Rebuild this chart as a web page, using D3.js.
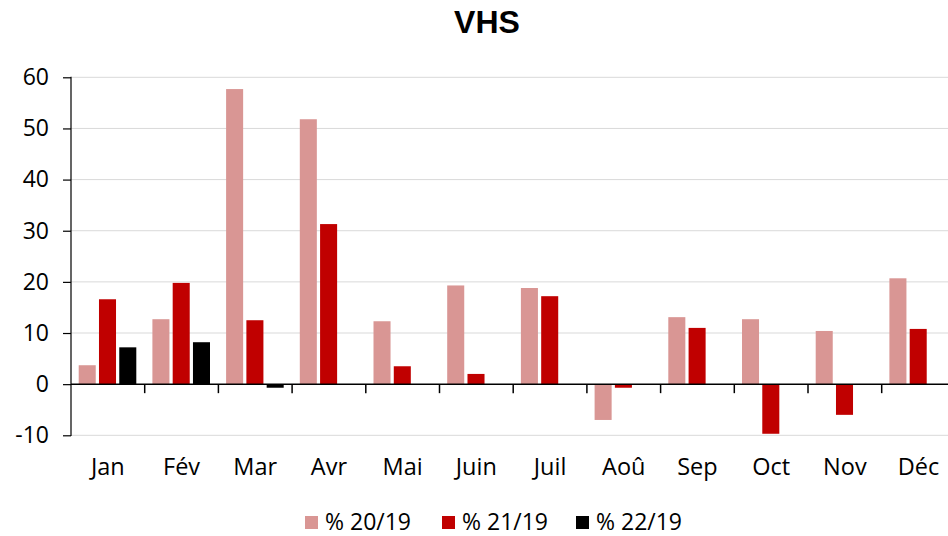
<!DOCTYPE html>
<html>
<head>
<meta charset="utf-8">
<script src="https://cdn.jsdelivr.net/npm/d3@7"></script>
<style>
  body { margin: 0; background: #fff; }
  svg { display: block; font-family: "Open Sans", sans-serif; }
</style>
</head>
<body>
<svg id="chart" width="948" height="536"></svg>
<script>
// Données
const mois = ["Jan", "Fév", "Mar", "Avr", "Mai", "Juin", "Juil", "Aoû", "Sep", "Oct", "Nov", "Déc"];
const series = ["% 20/19", "% 21/19", "% 22/19"];
const couleurs = ["#d99694", "#c00000", "#000000"];
const v2019_20 = [3.7, 12.7, 57.7, 51.8, 12.3, 19.3, 18.8, -7.0, 13.1, 12.7, 10.4, 20.7];
const v2019_21 = [16.6, 19.8, 12.5, 31.3, 3.5, 2.0, 17.2, -0.7, 11.0, -9.7, -6.0, 10.8];
const v2019_22 = [7.2, 8.2, -0.7, null, null, null, null, null, null, null, null, null];
const yTicks = [-10, 0, 10, 20, 30, 40, 50, 60];

const valeurs = [v2019_20, v2019_21, v2019_22];

const svg = d3.select("#chart");
const gauche = 71, droite = 955.4, haut = 77.3, bas = 435.3;

const x0 = d3.scaleBand().domain(mois).range([gauche, droite]).padding(0);
const x1 = d3.scaleBand().domain(series).range([7.7, 65.3]).paddingInner(0.16);
const y = d3.scaleLinear().domain([-10, 60]).range([bas, haut]);

// Titre
svg.append("text")
    .attr("x", 487).attr("y", 33)
    .attr("text-anchor", "middle")
    .attr("font-family", "Liberation Sans, Arial, sans-serif")
    .attr("font-weight", "bold")
    .attr("font-size", 32)
    .text("VHS");

// Grille
svg.append("g").selectAll("line")
    .data(yTicks.filter(d => d !== 0))
    .join("line")
    .attr("x1", gauche).attr("x2", 948)
    .attr("y1", d => y(d)).attr("y2", d => y(d))
    .attr("stroke", "#d9d9d9").attr("stroke-width", 1);

// Barres
series.forEach((s, i) => {
    svg.append("g").selectAll("rect")
        .data(mois.map((m, j) => ({ m: m, v: valeurs[i][j] })).filter(d => d.v !== null))
        .join("rect")
        .attr("x", d => x0(d.m) + x1(s))
        .attr("width", x1.bandwidth())
        .attr("y", d => y(Math.max(0, d.v)))
        .attr("height", d => Math.abs(y(d.v) - y(0)))
        .attr("fill", couleurs[i]);
});

// Axe Y
const axeY = d3.axisLeft(y).tickValues(yTicks).tickSize(8).tickPadding(14).tickFormat(d => String(d));
const gY = svg.append("g").attr("transform", `translate(${gauche},0)`).call(axeY);
gY.select(".domain").attr("stroke", "#000").attr("stroke-width", 1.2).attr("d", `M-0.5,${haut}H0V${bas}H-0.5`);
gY.selectAll(".tick line").attr("stroke", "#000").attr("stroke-width", 1.2);
gY.selectAll(".tick text").attr("font-size", 23).attr("fill", "#000").attr("font-family", "Open Sans, sans-serif");

// Axe X (ligne zéro)
const gX = svg.append("g").attr("transform", `translate(0,${y(0)})`);
gX.append("line").attr("x1", gauche).attr("x2", 948).attr("y1", 0).attr("y2", 0)
    .attr("stroke", "#000").attr("stroke-width", 1.5);
gX.selectAll("line.sep")
    .data(mois.slice(1))
    .join("line")
    .attr("class", "sep")
    .attr("x1", d => x0(d)).attr("x2", d => x0(d))
    .attr("y1", 0).attr("y2", 9)
    .attr("stroke", "#000").attr("stroke-width", 1.5);

svg.append("g").selectAll("text")
    .data(mois)
    .join("text")
    .attr("x", d => x0(d) + x0.bandwidth() / 2)
    .attr("y", 475)
    .attr("text-anchor", "middle")
    .attr("font-size", 23.5)
    .text(d => d);

// Légende
const legendeX = [305, 442, 576];
const leg = svg.append("g").selectAll("g")
    .data(series)
    .join("g")
    .attr("transform", (d, i) => `translate(${legendeX[i]},516)`);
leg.append("rect").attr("width", 13).attr("height", 13).attr("fill", (d, i) => couleurs[i]);
leg.append("text").attr("x", 20).attr("y", 14).attr("font-size", 23).text(d => d);
</script>
</body>
</html>
